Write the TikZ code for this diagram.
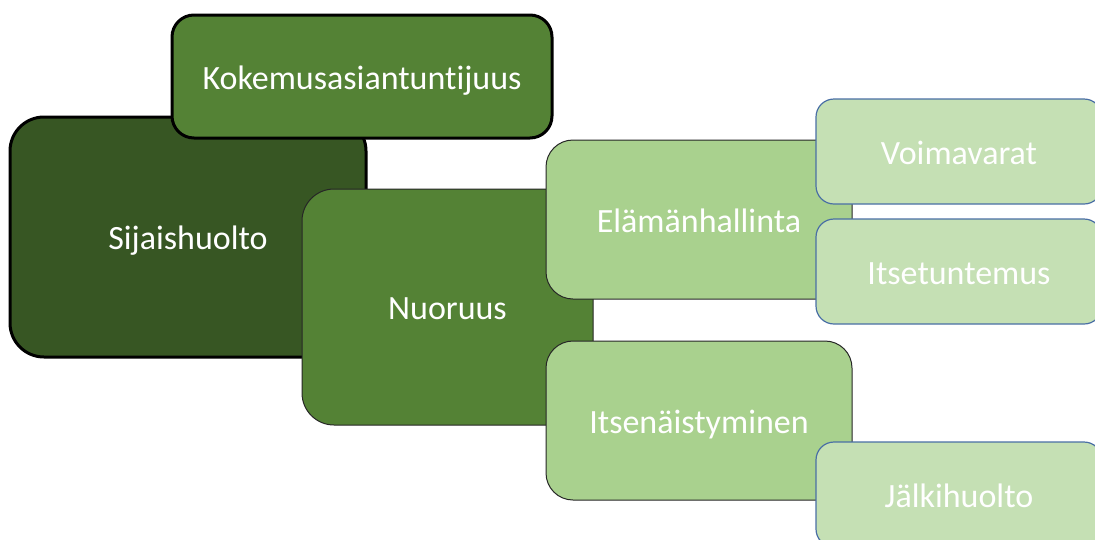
\documentclass[tikz,border=0pt]{standalone}
\usepackage{fontspec}
\setmainfont{Carlito}[Ligatures=NoCommon]
\definecolor{darkg}{HTML}{375623}
\definecolor{midg}{HTML}{548235}
\definecolor{lightg}{HTML}{A9D18E}
\definecolor{paleg}{HTML}{C5E0B4}
\definecolor{blueline}{HTML}{4A6FA5}
\newcommand{\lbl}[1]{\raisebox{-12.5pt}[0pt][0pt]{#1}}
\tikzset{
  box/.style={rectangle, inner sep=0pt, text=white, font=\fontsize{34}{40}\selectfont},
  thickbox/.style={box, draw=black, line width=3pt},
  thinbox/.style={box, draw=black!85, line width=1pt},
  bluebox/.style={box, draw=blueline, line width=1.2pt, fill=paleg, minimum width=286pt, minimum height=105pt, rounded corners=18pt},
}
\begin{document}
\begin{tikzpicture}[x=1pt,y=-1pt]
\useasboundingbox (0,0) rectangle (1095,539);
\clip (0,0) rectangle (1095,539);
\node[thickbox, fill=darkg, minimum width=356pt, minimum height=240pt, rounded corners=34pt] (sij) at (188,237) {\lbl{Sijaishuolto}};
\node[thickbox, fill=midg, minimum width=380pt, minimum height=123pt, rounded corners=22pt] (kok) at (362,76.5) {\lbl{Kokemusasiantuntijuus}};
\node[thinbox, fill=midg, minimum width=291pt, minimum height=236pt, rounded corners=32pt] (nuo) at (447.5,307) {\lbl{Nuoruus}};
\node[thinbox, fill=lightg, minimum width=306pt, minimum height=159pt, rounded corners=27pt] (ela) at (699,219.5) {\lbl{Elämänhallinta}};
\node[thinbox, fill=lightg, minimum width=306pt, minimum height=159pt, rounded corners=27pt] (its) at (699,420.5) {\lbl{Itsenäistyminen}};
\node[bluebox] (voi) at (959,151.5) {\lbl{Voimavarat}};
\node[bluebox] (ist) at (959,271.5) {\lbl{Itsetuntemus}};
\node[bluebox] (jal) at (959,494.5) {\lbl{Jälkihuolto}};
\end{tikzpicture}
\end{document}
